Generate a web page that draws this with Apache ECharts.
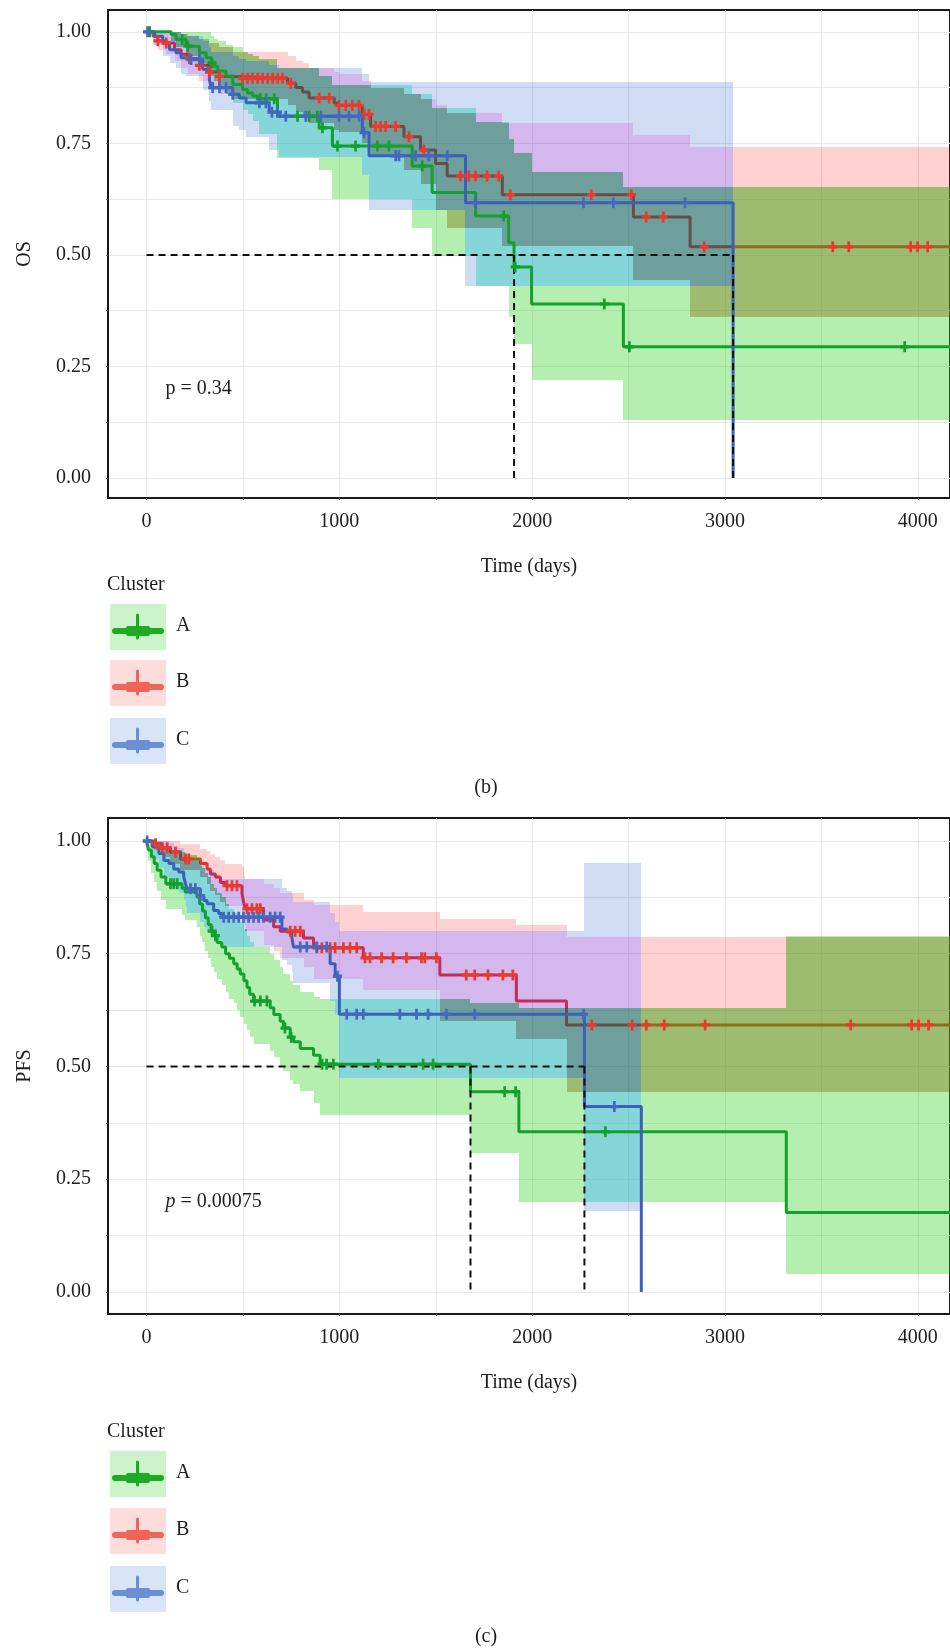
<!DOCTYPE html>
<html>
<head>
<meta charset="utf-8">
<script src="https://cdn.jsdelivr.net/npm/echarts@6/dist/echarts.min.js"></script>
<style>
  html, body { margin: 0; padding: 0; background: #fff; }
  #chart { width: 950px; height: 1651px; }
</style>
</head>
<body>
<div id="chart"></div>
<script>
// ---- axis ticks ----
const xTicks = [0, 1000, 2000, 3000, 4000];
const xGrid = [0, 500, 1000, 1500, 2000, 2500, 3000, 3500, 4000];
const yTicks = [0, 0.25, 0.5, 0.75, 1];
const yGrid = [0, 0.125, 0.25, 0.375, 0.5, 0.625, 0.75, 0.875, 1];
const groupNames = ['A', 'B', 'C'];
const followUpEnd = 4300;

// ---- OS (b) ----
const osA_time = [0, 128, 153, 205, 274, 309, 335, 352, 369, 412, 447, 498, 524, 550, 585, 679, 895, 964, 1378, 1481, 1707, 1878, 1906, 1997, 2473];
const osA_surv = [1, .994, .983, .968, .953, .942, .931, .923, .912, .901, .882, .871, .863, .856, .850, .811, .785, .744, .699, .640, .587, .527, .473, .390, .294];
const osA_low  = [1, .98, .965, .945, .93, .915, .90, .89, .875, .86, .84, .825, .815, .80, .77, .718, .69, .625, .56, .498, .43, .36, .30, .22, .13];
const osA_up   = [1, 1, 1, 1, 1, 1, .99, .985, .98, .97, .965, .955, .95, .945, .94, .92, .90, .88, .86, .83, .798, .76, .729, .686, .652];
const osA_cens = [16, 185, 214, 340, 590, 620, 662, 783, 843, 886, 912, 990, 1084, 1197, 1257, 1430, 1852, 1912, 2374, 2504, 3932];

const osB_time = [0, 33, 59, 102, 145, 179, 214, 274, 326, 378, 447, 731, 774, 809, 843, 973, 998, 1119, 1162, 1335, 1421, 1499, 1559, 1845, 2525, 2819];
const osB_surv = [1, .99, .98, .975, .96, .95, .94, .925, .91, .90, .896, .885, .875, .865, .852, .840, .835, .815, .788, .765, .735, .705, .677, .635, .585, .518];
const osB_low  = [1, .97, .96, .95, .935, .92, .905, .89, .87, .86, .85, .835, .82, .81, .795, .78, .775, .75, .72, .69, .66, .60, .56, .52, .444, .361];
const osB_up   = [1, 1, 1, 1, 1, .995, .99, .985, .975, .965, .955, .945, .935, .93, .92, .91, .905, .89, .875, .86, .85, .835, .818, .796, .769, .742];
const osB_cens = [59, 102, 222, 274, 326, 378, 498, 524, 550, 576, 602, 628, 654, 680, 705, 748, 895, 947, 998, 1033, 1067, 1102, 1128, 1154, 1188, 1214, 1240, 1292, 1361, 1438, 1628, 1671, 1706, 1766, 1826, 1887, 2307, 2514, 2592, 2680, 2892, 3559, 3642, 3963, 3999, 4051];

const osC_time = [0, 41, 84, 119, 153, 179, 205, 291, 326, 335, 447, 481, 516, 636, 688, 1119, 1154, 1654, 3042];
const osC_surv = [1, .99, .975, .96, .953, .942, .938, .916, .893, .875, .860, .852, .841, .82, .811, .774, .722, .617, 0];
const osC_low  = [1, .97, .945, .93, .92, .905, .90, .87, .845, .825, .79, .78, .765, .735, .72, .68, .60, .43, null];
const osC_up   = [1, 1, 1, 1, 1, .995, .99, .98, .965, .955, .945, .94, .935, .925, .92, .905, .888, .888, null];
const osC_cens = [5, 231, 274, 343, 378, 412, 447, 585, 619, 650, 679, 722, 826, 904, 998, 1050, 1102, 1128, 1292, 1309, 1395, 1464, 1559, 1707, 2266, 2421, 2793];

const osMedianH = 3042;
const osMedianV = [1906, 3042];

// ---- PFS (c) ----
const pfsA_time = [0, 10, 25, 40, 55, 75, 100, 184, 200, 262, 275, 290, 305, 320, 335, 350, 366, 390, 410, 430, 452, 470, 486, 505, 521, 535, 555, 641, 660, 693, 710, 745, 762, 797, 866, 900, 1680, 1931, 3318];
const pfsA_surv = [1, .98, .965, .95, .935, .92, .905, .895, .887, .875, .86, .845, .83, .815, .80, .79, .775, .765, .75, .74, .728, .716, .705, .69, .675, .66, .645, .63, .615, .60, .585, .565, .555, .54, .525, .505, .444, .355, .176];
const pfsA_low  = [1, .955, .93, .91, .89, .87, .85, .835, .825, .81, .79, .775, .755, .74, .72, .71, .695, .68, .665, .65, .64, .625, .61, .595, .58, .565, .55, .535, .52, .50, .49, .47, .46, .445, .42, .392, .308, .20, .04];
const pfsA_up   = [1, 1, 1, 1, .995, .99, .98, .975, .97, .96, .95, .94, .93, .92, .905, .895, .885, .875, .86, .85, .84, .83, .82, .805, .79, .775, .765, .75, .735, .72, .705, .69, .68, .665, .655, .65, .64, .63, .79];
const pfsA_cens = [124, 141, 159, 340, 357, 560, 590, 624, 718, 750, 910, 934, 969, 1202, 1434, 1486, 1857, 1914, 2380];

const pfsB_time = [0, 47, 81, 124, 176, 279, 314, 331, 357, 383, 409, 495, 503, 512, 607, 659, 693, 814, 866, 1124, 1521, 1918, 2178];
const pfsB_surv = [1, .994, .985, .975, .96, .95, .938, .927, .92, .908, .901, .883, .865, .85, .825, .81, .80, .785, .763, .741, .703, .645, .592];
const pfsB_low  = [1, .98, .965, .95, .935, .92, .905, .89, .88, .865, .855, .835, .815, .80, .77, .755, .74, .72, .695, .67, .60, .56, .444];
const pfsB_up   = [1, 1, 1, 1, .994, .983, .978, .972, .965, .957, .95, .942, .924, .915, .905, .895, .885, .87, .858, .842, .828, .814, .787];
const pfsB_cens = [47, 81, 107, 150, 202, 219, 417, 443, 469, 521, 547, 572, 590, 745, 771, 797, 883, 909, 952, 978, 1021, 1055, 1090, 1133, 1159, 1219, 1279, 1348, 1426, 1443, 1503, 1658, 1702, 1771, 1848, 1900, 2309, 2519, 2592, 2685, 2897, 3652, 3968, 4004, 4056];

const pfsC_time = [0, 29, 64, 90, 116, 141, 167, 193, 202, 210, 279, 297, 314, 348, 374, 391, 702, 728, 753, 762, 952, 978, 1000, 2271, 2566];
const pfsC_surv = [1, .987, .972, .957, .95, .938, .931, .92, .905, .894, .879, .868, .861, .846, .839, .831, .805, .798, .787, .765, .728, .70, .616, .411, 0];
const pfsC_low  = [1, .96, .94, .92, .91, .895, .885, .87, .855, .84, .82, .81, .80, .785, .775, .765, .735, .725, .71, .685, .645, .615, .474, .18, null];
const pfsC_up   = [1, 1, 1, 1, .995, .99, .985, .975, .965, .955, .945, .94, .935, .925, .92, .915, .895, .89, .88, .865, .84, .82, .80, .951, null];
const pfsC_cens = [3, 228, 253, 279, 400, 426, 452, 478, 503, 529, 555, 581, 607, 641, 667, 693, 797, 831, 883, 934, 990, 1038, 1090, 1124, 1314, 1400, 1460, 1555, 1702, 2266, 2426];

const pfsMedianH = 2271;
const pfsMedianV = [1680, 2271];

// ---- styles ----
const FONT = 'Liberation Serif';
const TXT = '#1e1e1e';
const lineColor = { A: '#14a02c', B: '#e5392e', C: '#3a60b8' };
const tickColor = { A: '#14a02c', B: '#ea3a2c', C: '#4468c0' };
// colour of each overlap of the confidence bands (drawn over the red line)
const overlapFill = {
  A: 'rgba(44,209,29,0.35)', B: 'rgba(255,25,25,0.2)', C: 'rgba(15,80,195,0.2)',
  AB: 'rgba(92,143,15,0.6)', AC: 'rgba(11,173,177,0.5)', BC: 'rgba(112,18,192,0.3)',
  ABC: 'rgba(13,95,90,0.6)'
};
const legendLine = { A: '#1faa24', B: '#f0645a', C: '#6b8fd3' };
const legendBg = { A: '#cdf3cb', B: '#fddcdc', C: '#d9e4f6' };

const panels = [
  {
    yName: 'OS', pText: 'p = 0.34', pItalic: false, pAt: [95, 0.2],
    medH: osMedianH, medV: osMedianV,
    g: {
      A: { time: osA_time, surv: osA_surv, low: osA_low, up: osA_up, cens: osA_cens },
      B: { time: osB_time, surv: osB_surv, low: osB_low, up: osB_up, cens: osB_cens },
      C: { time: osC_time, surv: osC_surv, low: osC_low, up: osC_up, cens: osC_cens }
    },
    grid: { left: 108, top: 10, width: 844, height: 488 }, yMin: -0.045, yMax: 1.049
  },
  {
    yName: 'PFS', pText: 'p = 0.00075', pItalic: true, pAt: [95, 0.2],
    medH: pfsMedianH, medV: pfsMedianV,
    g: {
      A: { time: pfsA_time, surv: pfsA_surv, low: pfsA_low, up: pfsA_up, cens: pfsA_cens },
      B: { time: pfsB_time, surv: pfsB_surv, low: pfsB_low, up: pfsB_up, cens: pfsB_cens },
      C: { time: pfsC_time, surv: pfsC_surv, low: pfsC_low, up: pfsC_up, cens: pfsC_cens }
    },
    grid: { left: 108, top: 818, width: 844, height: 496 }, yMin: -0.049, yMax: 1.051
  }
];

function stepIndex(time, x) {
  let k = -1;
  for (let i = 0; i < time.length; i++) if (time[i] <= x) k = i;
  return k;
}

function linePoints(g) {
  const pts = g.time.map((t, i) => [t, g.surv[i]]);
  if (g.surv[g.surv.length - 1] > 0) pts.push([followUpEnd, g.surv[g.surv.length - 1]]);
  return pts;
}

function bandIntervals(gs) {
  const cuts = new Set([followUpEnd]);
  gs.forEach(g => g.time.forEach(t => cuts.add(t)));
  const xs = Array.from(cuts).sort((a, b) => a - b);
  const out = [];
  for (let i = 0; i < xs.length - 1; i++) out.push([xs[i], xs[i + 1], 0]);
  return out;
}

function bandRenderer(gs) {
  return function (params, api) {
    const x0 = api.value(0), x1 = api.value(1);
    const mid = (x0 + x1) / 2;
    const spans = gs.map(g => {
      const k = stepIndex(g.time, mid);
      if (k < 0 || g.low[k] == null) return null;
      return [g.low[k], g.up[k]];
    });
    const ys = [];
    spans.forEach(s => { if (s) ys.push(s[0], s[1]); });
    ys.sort((a, b) => a - b);
    const children = [];
    for (let j = 0; j < ys.length - 1; j++) {
      const y0 = ys[j], y1 = ys[j + 1];
      if (y1 - y0 < 1e-6) continue;
      const ym = (y0 + y1) / 2;
      let key = '';
      spans.forEach((s, gi) => { if (s && s[0] <= ym && ym <= s[1]) key += groupNames[gi]; });
      if (!key) continue;
      const p0 = api.coord([x0, y1]), p1 = api.coord([x1, y0]);
      const l = Math.round(p0[0]), r = Math.round(p1[0]);
      const t = Math.round(p0[1]), b = Math.round(p1[1]);
      if (r <= l || b <= t) continue;
      children.push({ type: 'rect', shape: { x: l, y: t, width: r - l, height: b - t }, style: { fill: overlapFill[key] } });
    }
    return { type: 'group', children: children };
  };
}

const grids = [], xAxes = [], yAxes = [], series = [];
const labelStyle = { fontFamily: FONT, fontSize: 20, color: TXT };

panels.forEach((p, pi) => {
  grids.push(Object.assign({ show: true, borderColor: '#1a1a1a', borderWidth: 2, backgroundColor: '#fff' }, p.grid));
  xAxes.push({
    gridIndex: pi, type: 'value', min: -200, max: 4167,
    name: 'Time (days)', nameLocation: 'middle', nameGap: 59, nameTextStyle: labelStyle,
    axisLine: { show: true, onZero: false, lineStyle: { color: '#1a1a1a', width: 2 } },
    axisTick: { show: true, length: 2, customValues: xGrid, lineStyle: { color: '#666' } },
    axisLabel: Object.assign({ customValues: xTicks, margin: 14, formatter: v => String(v) }, labelStyle),
    splitLine: { show: true, lineStyle: { color: '#e8e8e8', width: 1 } }
  });
  yAxes.push({
    gridIndex: pi, type: 'value', min: p.yMin, max: p.yMax,
    name: p.yName, nameLocation: 'middle', nameRotate: 90, nameGap: 73, nameTextStyle: labelStyle,
    axisLine: { show: true, onZero: false, lineStyle: { color: '#1a1a1a', width: 2 } },
    axisTick: { show: true, length: 2, customValues: yGrid, lineStyle: { color: '#666' } },
    axisLabel: Object.assign({ customValues: yTicks, margin: 17, formatter: v => v.toFixed(2) }, labelStyle),
    splitLine: { show: true, lineStyle: { color: '#e8e8e8', width: 1 } }
  });

  const gs = groupNames.map(n => p.g[n]);
  series.push({
    type: 'custom', xAxisIndex: pi, yAxisIndex: pi, z: 2,
    renderItem: bandRenderer(gs),
    encode: { x: [0, 1], y: 2 },
    data: bandIntervals(gs), silent: true
  });
  groupNames.forEach(n => {
    series.push({
      type: 'line', xAxisIndex: pi, yAxisIndex: pi, step: 'end',
      z: n === 'B' ? 1 : 3, showSymbol: false, symbol: 'none',
      lineStyle: { color: lineColor[n], width: 3 },
      data: linePoints(p.g[n])
    });
  });
  const medLines = [[[0, 0.5], [p.medH, 0.5]]].concat(p.medV.map(v => [[v, 0.5], [v, 0]]));
  medLines.forEach(d => {
    series.push({
      type: 'line', xAxisIndex: pi, yAxisIndex: pi, z: 4, showSymbol: false, symbol: 'none',
      lineStyle: { color: '#111', width: 2, type: [7, 5] }, data: d
    });
  });
  groupNames.forEach(n => {
    const g = p.g[n];
    series.push({
      type: 'scatter', xAxisIndex: pi, yAxisIndex: pi, z: 5,
      symbol: 'path://M3.5,0h3v3.5h3.5v3h-3.5v3.5h-3v-3.5h-3.5v-3h3.5z', symbolSize: [9, 11],
      itemStyle: { color: tickColor[n], opacity: 1 },
      data: g.cens.map(t => [t, g.surv[stepIndex(g.time, t)]])
    });
  });
  series.push({
    type: 'scatter', xAxisIndex: pi, yAxisIndex: pi, z: 5, symbolSize: 1,
    itemStyle: { color: 'rgba(0,0,0,0)', opacity: 1 },
    label: {
      show: true, position: 'right', distance: 0, color: TXT, fontFamily: FONT, fontSize: 20,
      formatter: p.pItalic ? '{i|p}{n| = 0.00075}' : '{n|' + p.pText + '}',
      rich: { i: Object.assign({ fontStyle: 'italic' }, labelStyle), n: labelStyle }
    },
    data: [p.pAt]
  });
});

// ---- legends and captions ----
function legendBlock(titleY, keyTops) {
  const els = [{ type: 'text', x: 107, y: titleY, style: { text: 'Cluster', font: '20px "' + FONT + '"', fill: TXT, verticalAlign: 'middle' } }];
  groupNames.forEach((n, i) => {
    const top = keyTops[i];
    els.push({ type: 'rect', shape: { x: 110, y: top, width: 56, height: 46 }, style: { fill: legendBg[n] } });
    els.push({ type: 'line', shape: { x1: 115, y1: top + 27, x2: 161, y2: top + 27 }, style: { stroke: legendLine[n], lineWidth: 6, lineCap: 'round' } });
    els.push({ type: 'rect', shape: { x: 126, y: top + 22, width: 24, height: 10, r: 2 }, style: { fill: legendLine[n] } });
    els.push({ type: 'line', shape: { x1: 137.5, y1: top + 11, x2: 137.5, y2: top + 34 }, style: { stroke: legendLine[n], lineWidth: 3, lineCap: 'round' } });
    els.push({ type: 'text', x: 176, y: top + 22, style: { text: n, font: '20px "' + FONT + '"', fill: TXT, verticalAlign: 'middle' } });
  });
  return els;
}
const captions = [
  { type: 'text', x: 486, y: 788, style: { text: '(b)', font: '20px "' + FONT + '"', fill: TXT, align: 'center', verticalAlign: 'middle' } },
  { type: 'text', x: 486, y: 1637, style: { text: '(c)', font: '20px "' + FONT + '"', fill: TXT, align: 'center', verticalAlign: 'middle' } }
];

const chart = echarts.init(document.getElementById('chart'), null, { renderer: 'canvas' });
chart.setOption({
  animation: false,
  backgroundColor: '#fff',
  grid: grids,
  xAxis: xAxes,
  yAxis: yAxes,
  series: series,
  graphic: legendBlock(585, [604, 660, 718]).concat(legendBlock(1432, [1451, 1508, 1566])).concat(captions)
});
</script>
</body>
</html>
